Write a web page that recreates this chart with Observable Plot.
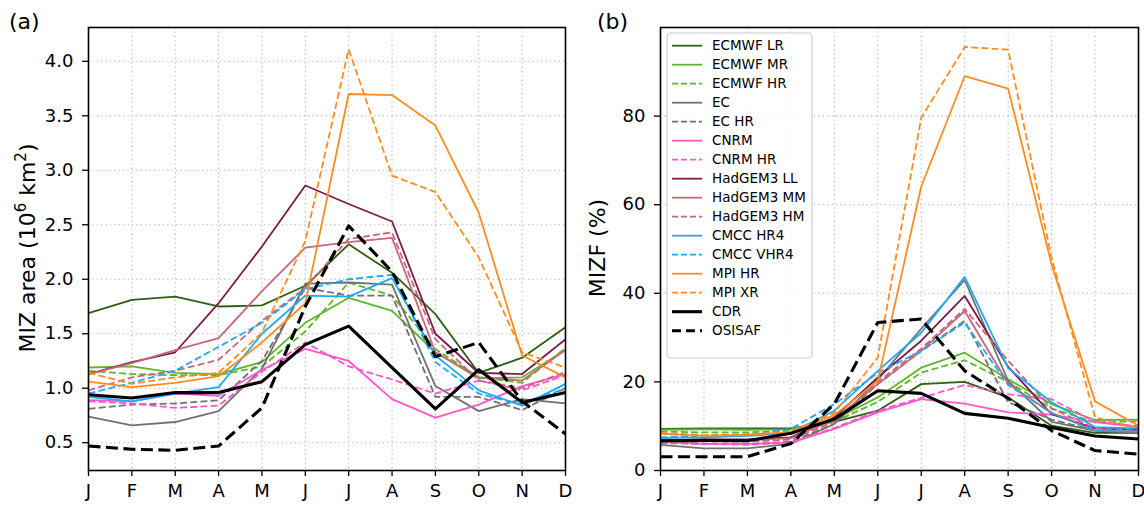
<!DOCTYPE html>
<html>
<head>
<meta charset="utf-8">
<script src="https://cdn.jsdelivr.net/npm/d3@7"></script>
<script src="https://cdn.jsdelivr.net/npm/@observablehq/plot@0.6"></script>
<style>
  body { margin: 0; background: white; }
  #wrap { position: relative; width: 1144px; height: 506px; overflow: hidden; background: white; }
  .panel { position: absolute; top: 0; }
</style>
</head>
<body>
<div id="wrap">
  <div id="pa" class="panel" style="left:0px"></div>
  <div id="pb" class="panel" style="left:572px"></div>
</div>
<script>
// ---------- data ----------
const months = ["J","F","M","A","M","J","J","A","S","O","N","D"];
const seriesNames = ["ECMWF LR","ECMWF MR","ECMWF HR","EC","EC HR","CNRM","CNRM HR",
  "HadGEM3 LL","HadGEM3 MM","HadGEM3 HM","CMCC HR4","CMCC VHR4","MPI HR","MPI XR","CDR","OSISAF"];
const areaTicks = [0.5,1.0,1.5,2.0,2.5,3.0,3.5,4.0];
const fracTicks = [0,20,40,60,80];

// (a) MIZ area (10^6 km^2)
const areaEcmwfLR  = [1.69,1.81,1.84,1.75,1.76,1.94,2.32,2.06,1.68,1.14,1.28,1.56];
const areaEcmwfMR  = [1.19,1.20,1.14,1.13,1.24,1.60,1.83,1.71,1.33,1.09,1.10,1.35];
const areaEcmwfHR  = [1.16,1.13,1.12,1.12,1.20,1.52,1.97,1.85,1.36,1.10,1.05,1.37];
const areaEC       = [0.74,0.66,0.69,0.79,1.18,1.96,1.97,1.95,1.02,0.79,0.90,0.86];
const areaECHR     = [0.81,0.85,0.86,0.89,1.25,1.92,1.85,1.85,0.92,0.92,0.80,1.00];
const areaCNRM     = [0.89,0.88,0.95,0.93,1.17,1.36,1.25,0.90,0.73,0.85,1.02,1.13];
const areaCNRMHR   = [0.88,0.86,0.82,0.84,1.15,1.42,1.20,1.08,0.95,1.07,0.98,1.12];
const areaHadLL    = [1.13,1.24,1.33,1.78,2.30,2.86,2.69,2.53,1.50,1.14,1.13,1.45];
const areaHadMM    = [1.13,1.23,1.35,1.46,1.89,2.29,2.34,2.38,1.33,1.10,1.07,1.35];
const areaHadHM    = [0.98,1.10,1.16,1.26,1.62,1.92,2.37,2.43,1.45,1.07,1.00,1.15];
const areaCmccHR4  = [0.92,0.88,0.95,1.01,1.50,1.85,1.84,2.01,1.30,0.98,0.84,1.04];
const areaCmccVHR4 = [0.95,1.05,1.16,1.38,1.60,1.91,2.00,2.04,1.24,0.95,0.85,1.00];
const areaMpiHR    = [1.06,1.01,1.05,1.11,1.42,1.78,3.70,3.69,3.41,2.61,1.30,1.10];
const areaMpiXR    = [1.14,1.04,1.10,1.14,1.51,2.35,4.11,2.95,2.80,2.20,1.33,1.19];
const areaCDR      = [0.94,0.91,0.96,0.96,1.06,1.40,1.57,1.19,0.81,1.17,0.87,0.96];
const areaOSISAF   = [0.47,0.44,0.43,0.47,0.82,1.75,2.49,2.07,1.29,1.42,0.88,0.58];

// (b) MIZF (%)
const fracEcmwfLR  = [9.4,9.5,9.5,9.5,11.0,13.5,19.5,20.0,16.5,10.1,8.5,8.5];
const fracEcmwfMR  = [9.2,9.3,9.2,9.3,11.5,16.5,23.2,26.6,20.6,15.0,11.4,11.5];
const fracEcmwfHR  = [8.8,8.6,8.6,9.0,11.0,15.5,22.1,24.9,20.0,14.0,10.9,11.1];
const fracEC       = [5.8,5.0,5.0,6.0,10.5,20.5,32.0,43.0,20.2,11.0,9.0,8.5];
const fracECHR     = [6.2,6.0,6.0,6.5,10.5,19.5,27.0,33.8,15.4,11.5,9.0,8.5];
const fracCNRM     = [6.5,6.0,6.0,6.3,9.4,13.1,16.1,15.1,13.1,12.6,10.9,9.8];
const fracCNRMHR   = [6.3,6.0,5.8,6.3,9.6,13.5,16.4,19.3,17.2,16.1,11.0,10.0];
const fracHadLL    = [6.8,7.0,7.0,7.5,12.0,21.0,29.3,39.4,23.4,12.7,9.5,9.2];
const fracHadMM    = [6.5,6.8,6.8,7.3,11.5,19.5,27.0,36.0,19.6,13.0,9.0,8.8];
const fracHadHM    = [6.3,6.5,6.5,7.0,11.0,20.0,27.5,36.5,24.8,14.0,9.5,9.0];
const fracCmccHR4  = [7.3,7.5,7.8,8.5,13.5,22.5,31.1,43.7,23.1,15.4,9.8,9.5];
const fracCmccVHR4 = [7.5,7.8,8.0,9.4,15.0,22.0,27.0,33.4,19.3,13.0,9.0,8.8];
const fracMpiHR    = [8.3,7.8,8.1,8.6,12.5,20.2,64.1,89.0,86.2,46.5,15.6,10.1];
const fracMpiXR    = [8.5,8.0,8.2,8.8,13.0,25.5,79.6,95.6,95.0,48.0,12.0,9.5];
const fracCDR      = [6.7,6.8,6.7,8.4,11.6,18.0,17.4,12.9,11.8,9.7,7.8,7.1];
const fracOSISAF   = [3.1,3.1,3.1,6.1,15.0,33.4,34.2,22.5,16.3,9.0,4.5,3.7];

const areaSeries = [areaEcmwfLR,areaEcmwfMR,areaEcmwfHR,areaEC,areaECHR,areaCNRM,areaCNRMHR,
  areaHadLL,areaHadMM,areaHadHM,areaCmccHR4,areaCmccVHR4,areaMpiHR,areaMpiXR,areaCDR,areaOSISAF];
const fracSeries = [fracEcmwfLR,fracEcmwfMR,fracEcmwfHR,fracEC,fracECHR,fracCNRM,fracCNRMHR,
  fracHadLL,fracHadMM,fracHadHM,fracCmccHR4,fracCmccVHR4,fracMpiHR,fracMpiXR,fracCDR,fracOSISAF];

// ---------- styles ----------
const C = {
  dkgreen: "#2e5f12", ltgreen: "#5db72a", gray: "#717171", pink: "#ff55cc",
  maroon: "#7a1b4b", rose: "#c8677a", blue: "#1fa9f5", orange: "#ff8c1f", black: "#000000"
};
const seriesStyle = [
  {c:C.dkgreen, d:false}, {c:C.ltgreen, d:false}, {c:C.ltgreen, d:true},
  {c:C.gray, d:false}, {c:C.gray, d:true},
  {c:C.pink, d:false}, {c:C.pink, d:true},
  {c:C.maroon, d:false}, {c:C.rose, d:false}, {c:C.rose, d:true},
  {c:C.blue, d:false}, {c:C.blue, d:true},
  {c:C.orange, d:false}, {c:C.orange, d:true},
  {c:C.black, d:false, thick:true}, {c:C.black, d:true, thick:true}
];
const dashThin = "7,3.2", dashThick = "12,5.5";
const lwThin = 1.8, lwThick = 3.1;

const FONT = "'DejaVu Sans', sans-serif";

function lineMarks(series) {
  return series.map((vals, k) => {
    const s = seriesStyle[k];
    return Plot.line(vals, {
      x: (d, i) => i, y: d => d,
      stroke: s.c,
      strokeWidth: s.thick ? lwThick : lwThin,
      strokeDasharray: s.d ? (s.thick ? dashThick : dashThin) : null,
      strokeLinejoin: "round", strokeLinecap: "butt"
    });
  });
}

function panel(series, yDomain, yTicks, yFmt, mr) {
  return Plot.plot({
    width: 572, height: 506,
    marginLeft: 88, marginRight: mr, marginTop: 27, marginBottom: 36,
    style: { fontFamily: FONT, fontSize: "18px", color: "black", background: "white", overflow: "visible" },
    x: { domain: [0, 11] },
    y: { domain: yDomain },
    marks: [
      Plot.gridX(d3.range(12), { stroke: "#b0b0b0", strokeOpacity: 1, strokeWidth: 1.1, strokeDasharray: "1.2,3.2" }),
      Plot.gridY(yTicks, { stroke: "#b0b0b0", strokeOpacity: 1, strokeWidth: 1.1, strokeDasharray: "1.2,3.2" }),
      ...lineMarks(series),
      Plot.axisX({ ticks: d3.range(12), tickFormat: i => months[i], tickSize: 6, tickPadding: 8,
        label: null, fontSize: 18, strokeWidth: 1.3 }),
      Plot.axisY({ ticks: yTicks, tickFormat: yFmt, tickSize: 6, tickPadding: 9,
        label: null, fontSize: 18, strokeWidth: 1.3 }),
      Plot.frame({ stroke: "black", strokeWidth: 1.6 })
    ]
  });
}

const svgA = panel(areaSeries, [0.245, 4.31], areaTicks, d3.format(".1f"), 7);
const svgB = panel(fracSeries, [0, 100], fracTicks, d3.format("d"), 6);
document.getElementById("pa").appendChild(svgA);
document.getElementById("pb").appendChild(svgB);

// panel letters and y labels
const sa = d3.select(svgA), sb = d3.select(svgB);
sa.append("text").attr("x", 9).attr("y", 29).attr("text-anchor", "start")
  .attr("font-family", FONT).attr("font-size", 22).text("(a)");
sb.append("text").attr("x", 25).attr("y", 29).attr("text-anchor", "start")
  .attr("font-family", FONT).attr("font-size", 22).text("(b)");

const ylabA = sa.append("text").attr("font-family", FONT).attr("font-size", 22)
  .attr("text-anchor", "middle").attr("transform", "translate(35,248) rotate(-90)");
ylabA.append("tspan").text("MIZ area (10");
ylabA.append("tspan").attr("font-size", 15).attr("dy", -9).text("6");
ylabA.append("tspan").attr("dy", 9).text(" km");
ylabA.append("tspan").attr("font-size", 15).attr("dy", -9).text("2");
ylabA.append("tspan").attr("dy", 9).text(")");

sb.append("text").attr("font-family", FONT).attr("font-size", 22)
  .attr("text-anchor", "middle").attr("transform", "translate(33,248) rotate(-90)")
  .text("MIZF (%)");

// legend in panel (b)
const lg = sb.append("g");
lg.append("rect").attr("x", 95).attr("y", 33).attr("width", 145).attr("height", 325)
  .attr("rx", 4).attr("fill", "white").attr("fill-opacity", 0.85)
  .attr("stroke", "#cccccc").attr("stroke-width", 1.2);
seriesNames.forEach((name, k) => {
  const s = seriesStyle[k];
  const y = 45.7 + k * 19.0;
  lg.append("line").attr("x1", 100).attr("x2", 130).attr("y1", y).attr("y2", y)
    .attr("stroke", s.c).attr("stroke-width", s.thick ? lwThick : lwThin)
    .attr("stroke-dasharray", s.d ? (s.thick ? "9,5" : "6,3") : null);
  lg.append("text").attr("x", 140).attr("y", y).attr("dy", "0.35em").attr("text-anchor", "start")
    .attr("font-family", FONT).attr("font-size", 13.5).text(name);
});
</script>
</body>
</html>
